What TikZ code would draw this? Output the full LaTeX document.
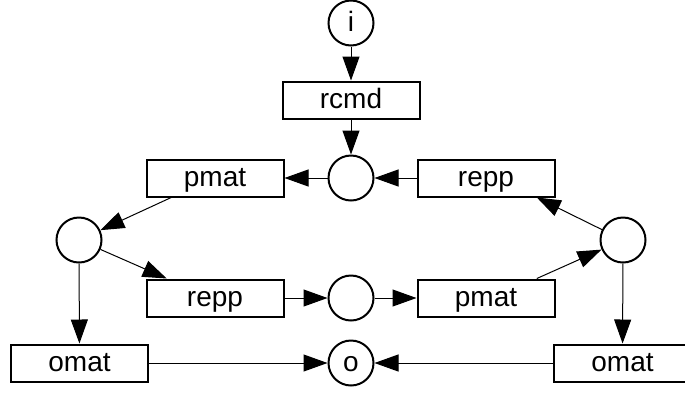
\documentclass[tikz,border=0pt]{standalone}
\usepackage{fontspec}
\setmainfont{Liberation Sans}
\usetikzlibrary{arrows.meta}

\begin{document}
\begin{tikzpicture}[x=1pt, y=-1pt,
        place/.style={draw, circle, line width=2pt, minimum size=45pt, inner sep=0pt,
            font=\fontsize{28}{30}\selectfont, text height=20pt, text depth=4pt},
        trans/.style={draw, rectangle, line width=2pt, minimum width=137pt, minimum height=37pt,
            inner sep=0pt, font=\fontsize{28}{30}\selectfont, text height=20pt, text depth=4pt},
        arc/.style={black, line width=1pt, -{Triangle[length=24pt, width=17pt]}}]
                \clip (0, 0) rectangle (685, 392);
                % places
                \node [place] (i) at (351, 23) {i};
                \node [place] (mid) at (351, 178) {};
                \node [place] (left) at (79, 240) {};
                \node [place] (right) at (623, 240) {};
                \node [place] (low) at (351, 298) {};
                \node [place] (o) at (351, 363) {o};
                % transitions
                \node [trans] (rcmd) at (351, 100) {rcmd};
                \node [trans] (pmatA) at (215, 178) {pmat};
                \node [trans] (reppA) at (486, 178) {repp};
                \node [trans] (reppB) at (215, 298) {repp};
                \node [trans] (pmatB) at (486, 298) {pmat};
                \node [trans] (omatA) at (79.5, 363) {omat};
                \node [trans] (omatB) at (622.5, 363) {omat};
                % arcs
                \draw [arc] (i) -- (rcmd);
                \draw [arc] (rcmd) -- (mid);
                \draw [arc] (mid) -- (pmatA);
                \draw [arc] (reppA) -- (mid);
                \draw [arc] (pmatA.204) -- (left);
                \draw [arc] (left) -- (reppB.158);
                \draw [arc] (left) -- (omatA);
                \draw [arc] (reppB) -- (low);
                \draw [arc] (low) -- (pmatB);
                \draw [arc] (pmatB.21) -- (right);
                \draw [arc] (right) -- (reppA.-21);
                \draw [arc] (right) -- (omatB);
                \draw [arc] (omatA) -- (o);
                \draw [arc] (omatB) -- (o);
\end{tikzpicture}
\end{document}
